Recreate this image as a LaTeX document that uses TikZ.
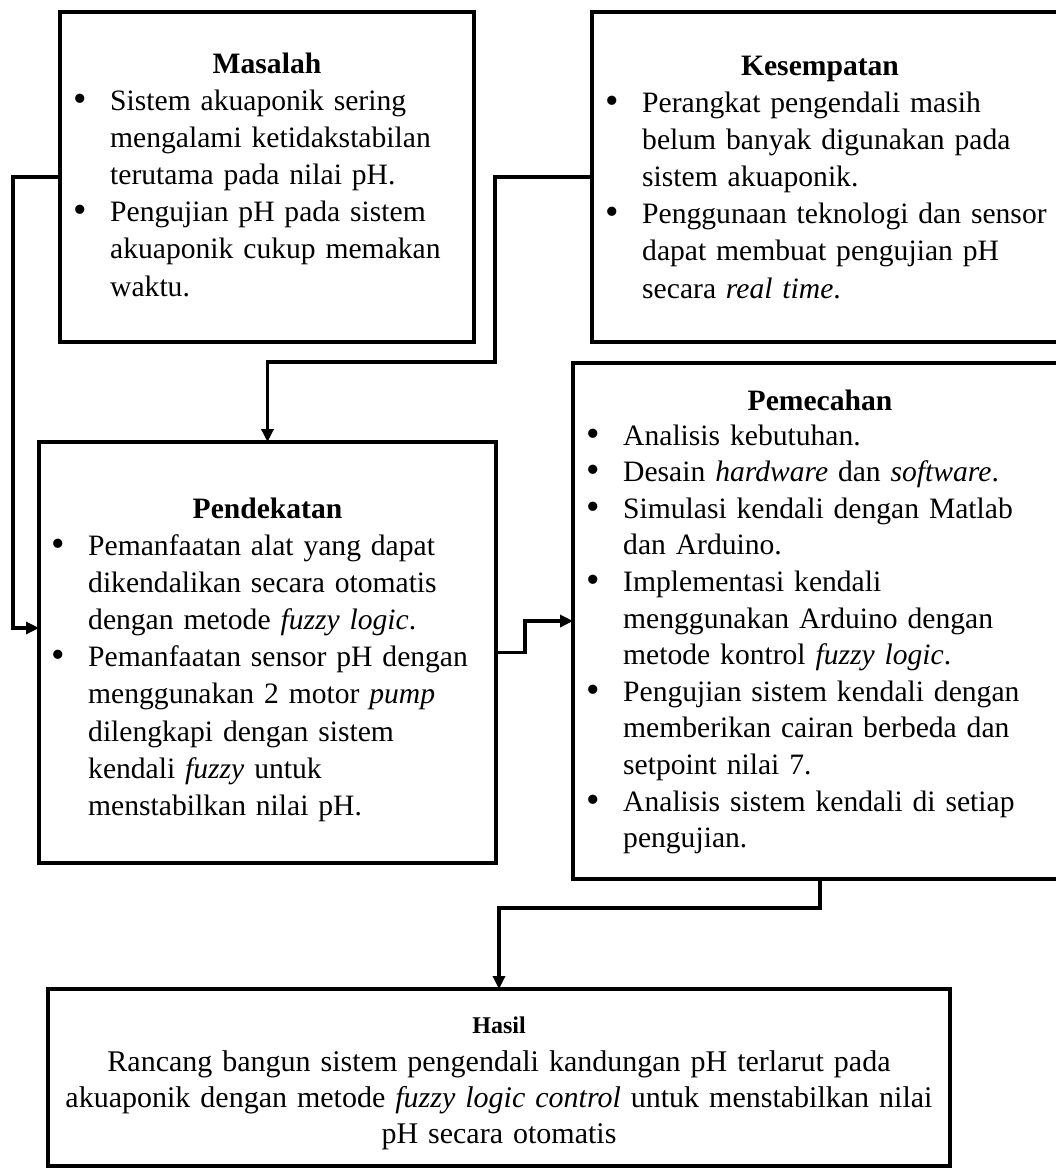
\documentclass[tikz,border=0pt]{standalone}
\usepackage{fontspec}
\setmainfont{Liberation Serif}
\usetikzlibrary{arrows.meta}
\newcommand{\bitem}{\makebox[37pt][l]{\raisebox{-1.2pt}{\scalebox{1.3}{\textbullet}}}}
\newcommand{\cont}{\hspace*{37pt}}
\begin{document}
\begin{tikzpicture}[x=1pt,y=-1pt,
  box/.style={draw, line width=4pt, inner sep=0pt, outer sep=0pt},
  conn/.style={line width=3.3pt},
  arr/.style={conn, -{Triangle[length=13pt,width=12pt]}},
  body/.style={inner sep=0pt, anchor=base west, text width=500pt, align=left,
    font=\fontsize{29.6}{37.2}\selectfont},
  ttl/.style={inner sep=0pt, anchor=base, font=\fontsize{29.6}{37.2}\selectfont\bfseries}
]
\useasboundingbox (0,0) rectangle (1056,1168);
\fill[white] (0,0) rectangle (1056,1168);
\clip (0,0) rectangle (1056,1168);

% boxes
\node[box, minimum width=414pt, minimum height=330pt] (masalah) at (267,177) {};
\node[box, minimum width=483pt, minimum height=330pt] (kesempatan) at (833.5,177) {};
\node[box, minimum width=457pt, minimum height=421pt] (pendekatan) at (267.5,652.5) {};
\node[box, minimum width=494pt, minimum height=516pt] (pemecahan) at (820,621) {};
\node[box, minimum width=902pt, minimum height=177pt] (hasil) at (499,1077.5) {};

% Masalah
\node[ttl] (tmas) at (267,73) {Masalah};
\node[body] (bmas) at (73,110) {\bitem Sistem akuaponik sering\\
\cont mengalami ketidakstabilan\\
\cont terutama pada nilai pH.\\
\bitem Pengujian pH pada sistem\\
\cont akuaponik cukup memakan\\
\cont waktu.};

% Kesempatan
\node[ttl] (tkes) at (820,75) {Kesempatan};
\node[body] (bkes) at (605,112) {\bitem Perangkat pengendali masih\\
\cont belum banyak digunakan pada\\
\cont sistem akuaponik.\\
\bitem Penggunaan teknologi dan sensor\\
\cont dapat membuat pengujian pH\\
\cont secara \textit{real time}.};

% Pendekatan
\node[ttl] (tpen) at (267.5,518) {Pendekatan};
\node[body] (bpen) at (51,555) {\bitem Pemanfaatan alat yang dapat\\
\cont dikendalikan secara otomatis\\
\cont dengan metode \textit{fuzzy logic}.\\
\bitem Pemanfaatan sensor pH dengan\\
\cont menggunakan 2 motor \textit{pump}\\
\cont dilengkapi dengan sistem\\
\cont kendali \textit{fuzzy} untuk\\
\cont menstabilkan nilai pH.};

% Pemecahan
\node[ttl] (tpem) at (820,410) {Pemecahan};
\node[body, font=\fontsize{29.6}{36.6}\selectfont] (bpem) at (586,445) {\bitem Analisis kebutuhan.\\
\bitem Desain \textit{hardware} dan \textit{software}.\\
\bitem Simulasi kendali dengan Matlab\\
\cont dan Arduino.\\
\bitem Implementasi kendali\\
\cont menggunakan Arduino dengan\\
\cont metode kontrol \textit{fuzzy logic}.\\
\bitem Pengujian sistem kendali dengan\\
\cont memberikan cairan berbeda dan\\
\cont setpoint nilai 7.\\
\bitem Analisis sistem kendali di setiap\\
\cont pengujian.};

% Hasil
\node[inner sep=0pt, anchor=base, font=\fontsize{24}{28}\selectfont\bfseries] (thas) at (499,1033) {Hasil};
\node[inner sep=0pt, anchor=base, text width=900pt, align=center,
  font=\fontsize{30}{36.2}\selectfont] (bhas) at (499,1071)
  {Rancang bangun sistem pengendali kandungan pH terlarut pada\\
   akuaponik dengan metode \textit{fuzzy logic control} untuk menstabilkan nilai\\
   pH secara otomatis};

% connectors
\coordinate (m1) at (13,177);
\coordinate (pin) at (39,628);
\draw[arr] (masalah.west) -- (m1) |- (pin);

\coordinate (k1) at (495,177);
\coordinate (k2) at (495,362);
\draw[arr] (kesempatan.west) -- (k1) -- (k2) -| (pendekatan.north);

\draw[arr] (pendekatan.east) -- ++(29,0) |- (pemecahan.west);

\draw[arr] (pemecahan.south) -- ++(0,29) -| (hasil.north);
\end{tikzpicture}
\end{document}
